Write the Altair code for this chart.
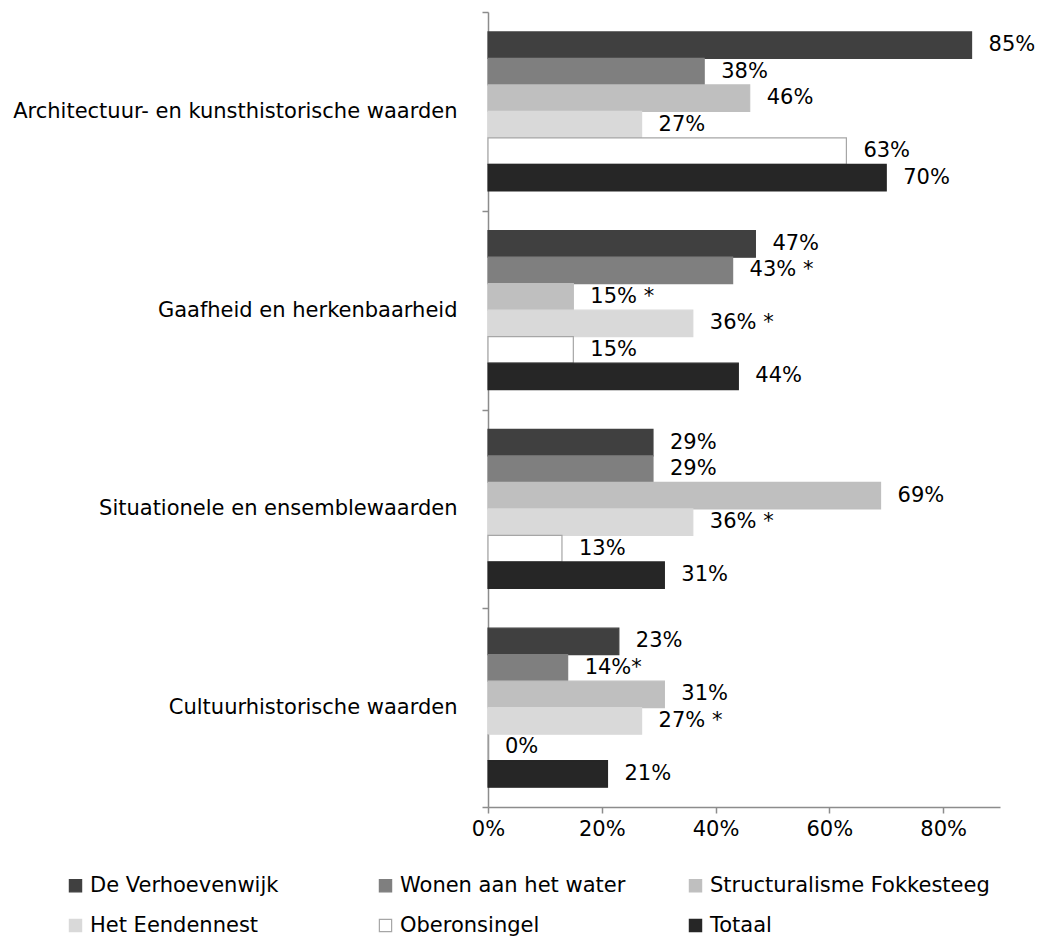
import altair as alt
import pandas as pd

categories = [
    "Architectuur- en kunsthistorische waarden",
    "Gaafheid en herkenbaarheid",
    "Situationele en ensemblewaarden",
    "Cultuurhistorische waarden",
]
series = [
    "De Verhoevenwijk",
    "Wonen aan het water",
    "Structuralisme Fokkesteeg",
    "Het Eendennest",
    "Oberonsingel",
    "Totaal",
]
values = {
    "De Verhoevenwijk":          [85, 47, 29, 23],
    "Wonen aan het water":       [38, 43, 29, 14],
    "Structuralisme Fokkesteeg": [46, 15, 69, 31],
    "Het Eendennest":            [27, 36, 36, 27],
    "Oberonsingel":              [63, 15, 13, 0],
    "Totaal":                    [70, 44, 31, 21],
}
markers = {
    "De Verhoevenwijk":          ["", "", "", ""],
    "Wonen aan het water":       ["", " *", "", "*"],
    "Structuralisme Fokkesteeg": ["", " *", "", ""],
    "Het Eendennest":            ["", " *", " *", " *"],
    "Oberonsingel":              ["", "", "", ""],
    "Totaal":                    ["", "", "", ""],
}
fills = ["#404040", "#7f7f7f", "#bfbfbf", "#d9d9d9", "#ffffff", "#262626"]
strokes = ["#404040", "#7f7f7f", "#bfbfbf", "#d9d9d9", "#a6a6a6", "#262626"]

rows = []
for s in series:
    for i, c in enumerate(categories):
        v = values[s][i]
        rows.append({
            "cat": c, "series": s, "value": v / 100.0,
            "label": f"{v}%{markers[s][i]}",
        })
df = pd.DataFrame(rows)

FONT = "DejaVu Sans"
FS = 21

y_enc = alt.Y("cat:N", sort=categories, title=None,
              scale=alt.Scale(paddingInner=0, paddingOuter=0),
              axis=alt.Axis(tickBand="extent", tickSize=6, labelPadding=25,
                            labelFontSize=FS, labelFont=FONT, labelColor="#000000",
                            domainColor="#8c8c8c", tickColor="#8c8c8c",
                            domainWidth=1.5, tickWidth=1.5, labelLimit=600))
yoff = alt.YOffset("series:N", sort=series,
                   scale=alt.Scale(paddingInner=0, paddingOuter=0.75))
x_scale = alt.Scale(domain=[0, 0.9], nice=False)

bars = alt.Chart(df).mark_bar(strokeWidth=1.2).encode(
    x=alt.X("value:Q", scale=x_scale, title=None,
            axis=alt.Axis(values=[0, 0.2, 0.4, 0.6, 0.8], format=".0%", grid=False,
                          labelFlush=False,
                          tickSize=6, labelPadding=5, labelFontSize=FS, labelFont=FONT,
                          labelColor="#000000", domainColor="#8c8c8c", tickColor="#8c8c8c",
                          domainWidth=1.5, tickWidth=1.5)),
    y=y_enc,
    yOffset=yoff,
    fill=alt.Fill("series:N", sort=series,
                  scale=alt.Scale(domain=series, range=fills),
                  legend=alt.Legend(title=None, orient="none", legendX=-423, legendY=863,
                                    columns=3, direction="horizontal", gridAlign="all",
                                    columnPadding=5, rowPadding=18,
                                    symbolType="square", symbolSize=150,
                                    symbolStrokeWidth=1.2, labelOffset=4,
                                    labelFontSize=FS, labelFont=FONT,
                                    labelColor="#000000", labelLimit=400)),
    stroke=alt.Stroke("series:N", sort=series,
                      scale=alt.Scale(domain=series, range=strokes), legend=None),
)

texts = alt.Chart(df).mark_text(align="left", baseline="middle", dx=17,
                                fontSize=FS, font=FONT, color="#000000").encode(
    x=alt.X("value:Q", scale=x_scale),
    y=alt.Y("cat:N", sort=categories),
    yOffset=yoff,
    text="label:N",
)

chart = alt.layer(bars, texts).properties(
    width=512, height=795,
    background="#ffffff",
    autosize=alt.AutoSizeParams(type="none"),
    padding={"left": 480, "top": 4, "right": 38, "bottom": 130},
).configure_view(strokeWidth=0)

chart.save("out.html", embed_options={"renderer": "svg", "actions": False})
